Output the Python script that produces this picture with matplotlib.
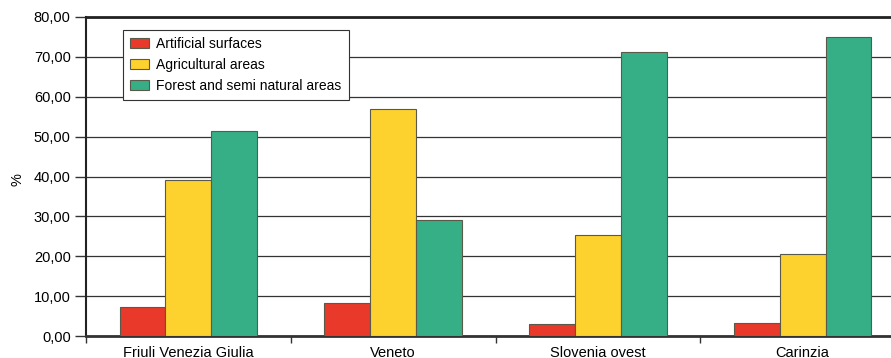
import matplotlib
matplotlib.use("Agg")
import matplotlib.pyplot as plt
import numpy as np
from matplotlib.ticker import FuncFormatter, FixedLocator

regions = ["Friuli Venezia Giulia", "Veneto", "Slovenia ovest", "Carinzia"]
artificial = [7.3, 8.2, 3.0, 3.3]
agricultural = [39.0, 57.0, 25.3, 20.5]
forest = [51.5, 29.0, 71.2, 75.0]
series_names = ["Artificial surfaces", "Agricultural areas", "Forest and semi natural areas"]
colors = ["#E8392A", "#FDD22E", "#36AF87"]

plt.rcParams["font.family"] = ["Liberation Sans", "DejaVu Sans"]

fig = plt.figure(figsize=(8.91, 3.58), dpi=100)
W, H = 891, 358
ax = fig.add_axes([86 / W, (H - 336) / H, (905 - 86) / W, (336 - 17) / H])

x = np.arange(len(regions))
bw = 0.224
for i, (vals, name, c) in enumerate(zip([artificial, agricultural, forest], series_names, colors)):
    ax.bar(x + (i - 1) * bw, vals, bw, color=c, edgecolor="#5a5a4a", linewidth=0.8,
           label=name, zorder=3)

ax.set_xlim(-0.5, len(regions) - 0.5)
ax.set_ylim(0, 80)
ax.set_yticks(np.arange(0, 81, 10))
ax.yaxis.set_major_formatter(FuncFormatter(lambda v, p: f"{v:.2f}".replace(".", ",")))
ax.grid(axis="y", color="#333333", linewidth=0.9, zorder=0)

ax.set_xticks(x)
ax.set_xticklabels(regions, fontsize=10.5)
ax.xaxis.set_minor_locator(FixedLocator(np.arange(-0.5, len(regions), 1.0)))
ax.tick_params(axis="x", which="major", length=0, pad=7)
ax.tick_params(axis="x", which="minor", length=5, width=1, color="#333333", direction="out")
ax.tick_params(axis="y", length=8, width=1, color="#333333", labelsize=10.5, pad=3)

ax.spines["top"].set_linewidth(2.0)
ax.spines["top"].set_color("#222222")
ax.spines["bottom"].set_linewidth(2.0)
ax.spines["bottom"].set_color("#333333")
ax.spines["left"].set_linewidth(1.5)
ax.spines["left"].set_color("#222222")
ax.spines["right"].set_visible(False)

fig.text(17 / W, (H - 180) / H, "%", rotation=90, fontsize=10.5, ha="center", va="center")

leg = ax.legend(loc="upper left", bbox_to_anchor=((123 - 86) / (905 - 86), (336 - 30) / (336 - 17)),
                borderaxespad=0, fontsize=10, frameon=True, fancybox=False, framealpha=1,
                edgecolor="#333333", handlelength=1.4, handleheight=0.7,
                labelspacing=0.5, borderpad=0.5, handletextpad=0.5)
leg.get_frame().set_linewidth(0.8)
leg.set_zorder(5)

fig.savefig("out.png", dpi=100)
